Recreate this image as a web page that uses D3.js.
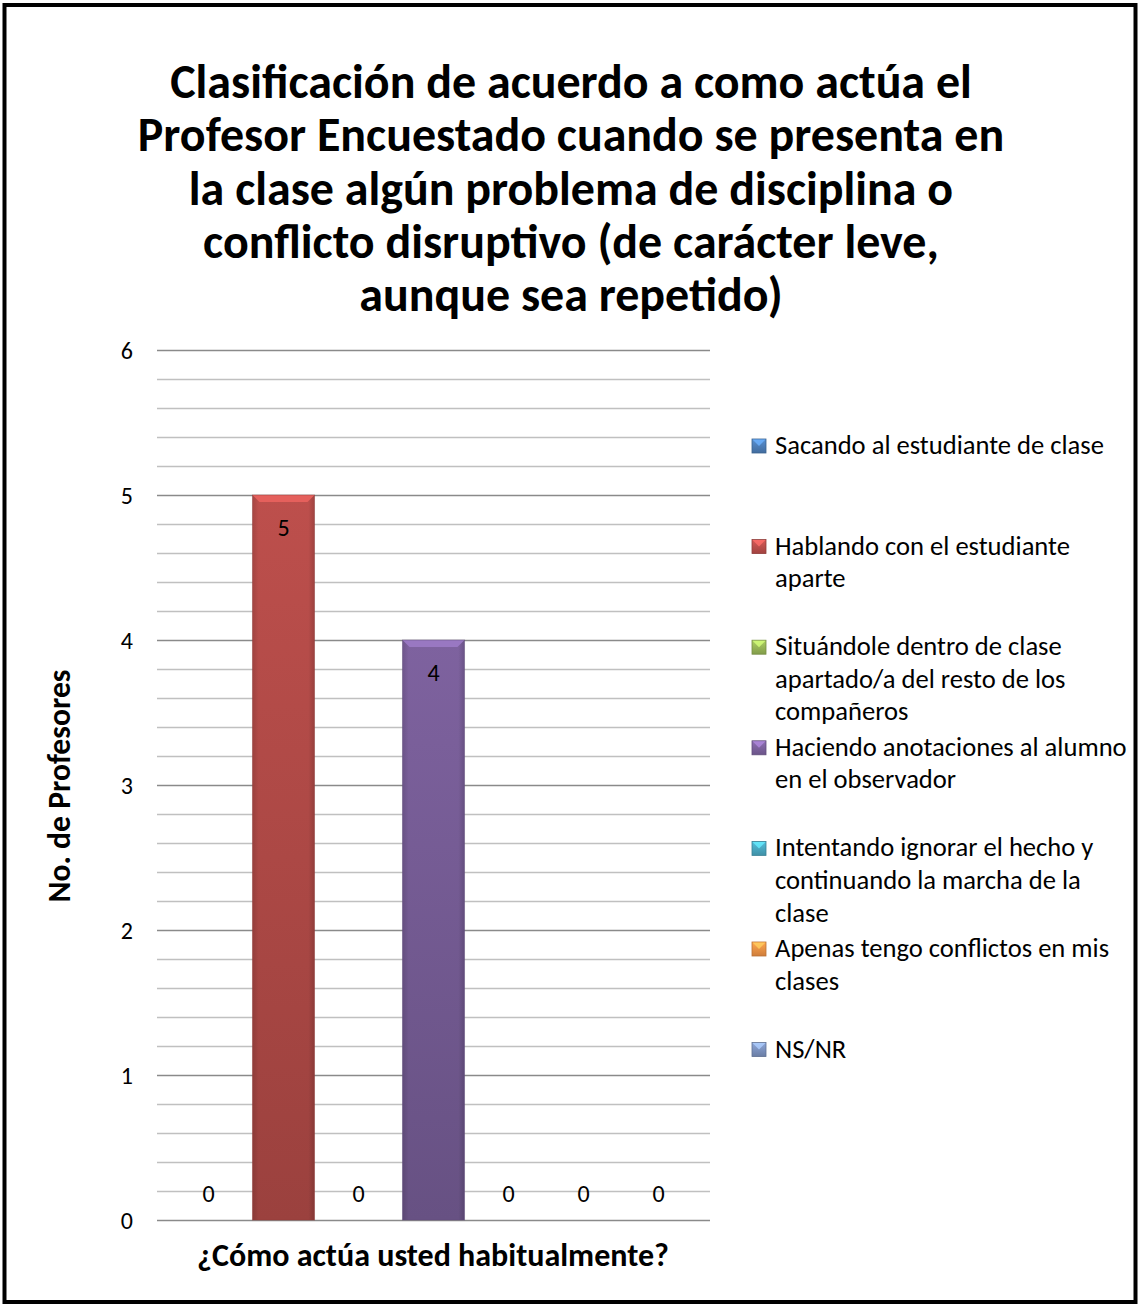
<!DOCTYPE html>
<html>
<head>
<meta charset="utf-8">
<script src="https://cdn.jsdelivr.net/npm/d3@7"></script>
<style>
  body { margin: 0; background: #fff; }
  svg { display: block; font-family: Carlito, Calibri, Lato, sans-serif; }
</style>
</head>
<body>
<svg id="chart"></svg>
<script>
// données du graphique
const titleLines = [
  "Clasificación de acuerdo a como actúa el",
  "Profesor Encuestado cuando se presenta en",
  "la clase algún problema de disciplina o",
  "conflicto disruptivo (de carácter leve,",
  "aunque sea repetido)"
];
const category = "¿Cómo actúa usted habitualmente?";
const yLabel = "No. de Profesores";
const seriesNames = [
  "Sacando al estudiante de clase",
  "Hablando con el estudiante aparte",
  "Situándole dentro de clase apartado/a del resto de los compañeros",
  "Haciendo anotaciones al alumno en el observador",
  "Intentando ignorar el hecho y continuando la marcha de la clase",
  "Apenas tengo conflictos en mis clases",
  "NS/NR"
];
// retours à la ligne de la légende
const legendLines = [
  ["Sacando al estudiante de clase"],
  ["Hablando con el estudiante", "aparte"],
  ["Situándole dentro de clase", "apartado/a del resto de los", "compañeros"],
  ["Haciendo anotaciones al alumno", "en el observador"],
  ["Intentando ignorar el hecho y", "continuando la marcha de la", "clase"],
  ["Apenas tengo conflictos en mis", "clases"],
  ["NS/NR"]
];
const values = [0, 5, 0, 4, 0, 0, 0];
const yTicks = [0, 1, 2, 3, 4, 5, 6];
const colors = ["#4f81bd", "#c0504d", "#9bbb59", "#8064a2", "#4bacc6", "#f79646", "#7f96c4"];

const width = 1139, height = 1306;
const plot = { left: 157, right: 710, top: 350, bottom: 1220 };

const svg = d3.select("#chart").attr("width", width).attr("height", height);
const defs = svg.append("defs");

// ajuste la taille de police pour obtenir une largeur donnée
function fitFont(sel, target, base) {
  sel.attr("font-size", base);
  const w = sel.node().getComputedTextLength();
  const size = base * target / w;
  sel.attr("font-size", size);
  return size;
}

// cadre
svg.append("rect")
  .attr("x", 4.5).attr("y", 5)
  .attr("width", 1131).attr("height", 1297)
  .attr("fill", "#fff")
  .attr("stroke", "#000")
  .attr("stroke-width", 4);

// titre
const t0 = svg.append("text").attr("font-weight", "bold").text(titleLines[0]);
const titleSize = fitFont(t0, 802, 40);
t0.remove();
svg.append("g").selectAll("text")
  .data(titleLines)
  .join("text")
  .attr("x", 571)
  .attr("y", (d, i) => 98 + i * 53.3)
  .attr("text-anchor", "middle")
  .attr("font-weight", "bold")
  .attr("font-size", titleSize)
  .attr("fill", "#000")
  .text(d => d);

// échelles
const yScale = d3.scaleLinear().domain([0, 6]).range([plot.bottom, plot.top]);
const xScale = d3.scaleBand()
  .domain(d3.range(seriesNames.length))
  .range([plot.left, plot.right])
  .paddingInner(0.173)
  .paddingOuter(0.273);

// lignes de grille
const minor = d3.range(0, 6.0001, 0.2).filter(v => Math.abs(v - Math.round(v)) > 0.01);
svg.append("g").selectAll("line")
  .data(minor)
  .join("line")
  .attr("x1", plot.left).attr("x2", plot.right)
  .attr("y1", d => Math.round(yScale(d)) + 0.5)
  .attr("y2", d => Math.round(yScale(d)) + 0.5)
  .attr("stroke", "#c0c0c0")
  .attr("stroke-width", 1.5);

const yAxis = svg.append("g")
  .attr("transform", `translate(${plot.left},0)`)
  .call(d3.axisLeft(yScale).tickValues(yTicks).tickFormat(d3.format("d"))
    .tickSize(-(plot.right - plot.left)).tickPadding(24));
yAxis.select(".domain").remove();
yAxis.attr("font-size", null).attr("font-family", null);
yAxis.selectAll(".tick line").attr("stroke", "#8a8a8a").attr("stroke-width", 1.5);
yAxis.selectAll(".tick text")
  .style("font-size", "24px")
  .attr("dy", "0.35em")
  .attr("fill", "#000");

// dégradés pour les barres
colors.forEach((c, i) => {
  const g = defs.append("linearGradient")
    .attr("id", "grad" + i)
    .attr("x1", 0).attr("y1", 0).attr("x2", 0).attr("y2", 1);
  g.append("stop").attr("offset", "0%").attr("stop-color", d3.color(c).darker(0.05));
  g.append("stop").attr("offset", "100%").attr("stop-color", d3.color(c).darker(0.6));
  const s = defs.append("linearGradient")
    .attr("id", "side" + i)
    .attr("x1", 0).attr("y1", 0).attr("x2", 1).attr("y2", 0);
  s.append("stop").attr("offset", "0%").attr("stop-color", "#000").attr("stop-opacity", 0.12);
  s.append("stop").attr("offset", "10%").attr("stop-color", "#000").attr("stop-opacity", 0);
  s.append("stop").attr("offset", "90%").attr("stop-color", "#000").attr("stop-opacity", 0);
  s.append("stop").attr("offset", "100%").attr("stop-color", "#000").attr("stop-opacity", 0.15);
});

const bevel = 7;
const bars = svg.append("g").selectAll("g")
  .data(values.map((v, i) => ({ v, i })).filter(d => d.v > 0))
  .join("g");

bars.append("rect")
  .attr("x", d => xScale(d.i))
  .attr("y", d => yScale(d.v))
  .attr("width", xScale.bandwidth())
  .attr("height", d => yScale(0) - yScale(d.v))
  .attr("fill", d => `url(#grad${d.i})`);

bars.append("rect")
  .attr("x", d => xScale(d.i))
  .attr("y", d => yScale(d.v))
  .attr("width", xScale.bandwidth())
  .attr("height", d => yScale(0) - yScale(d.v))
  .attr("fill", d => `url(#side${d.i})`);

// biseau du haut
bars.append("path")
  .attr("d", d => {
    const x0 = xScale(d.i), x1 = x0 + xScale.bandwidth(), y0 = yScale(d.v);
    return `M${x0},${y0}L${x1},${y0}L${x1 - bevel},${y0 + bevel}L${x0 + bevel},${y0 + bevel}Z`;
  })
  .attr("fill", d => d3.color(colors[d.i]).brighter(0.5));

bars.append("rect")
  .attr("x", d => xScale(d.i))
  .attr("y", d => yScale(d.v))
  .attr("width", xScale.bandwidth())
  .attr("height", d => yScale(0) - yScale(d.v))
  .attr("fill", "none")
  .attr("stroke", d => d3.color(colors[d.i]).darker(0.8))
  .attr("stroke-opacity", 0.5)
  .attr("stroke-width", 1);

// étiquettes de valeurs
svg.append("g").selectAll("text")
  .data(values.map((v, i) => ({ v, i })))
  .join("text")
  .attr("x", d => xScale(d.i) + xScale.bandwidth() / 2)
  .attr("y", d => d.v > 0 ? yScale(d.v) + 41 : yScale(0) - 18)
  .attr("text-anchor", "middle")
  .attr("font-size", 24)
  .attr("fill", "#000")
  .text(d => d.v);

// titre de l'axe X
const xt = svg.append("text")
  .attr("x", 433)
  .attr("y", 1266)
  .attr("text-anchor", "middle")
  .attr("font-weight", "bold")
  .attr("fill", "#000")
  .text(category);
fitFont(xt, 472, 22);

// titre de l'axe Y
const yt = svg.append("text")
  .attr("transform", "translate(70,786) rotate(-90)")
  .attr("text-anchor", "middle")
  .attr("font-weight", "bold")
  .attr("fill", "#000")
  .text(yLabel);
fitFont(yt, 233, 22);

// légende
const lt = svg.append("text").text(legendLines[0][0]);
const legendSize = fitFont(lt, 329, 22);
lt.remove();

const legend = svg.append("g").selectAll("g")
  .data(seriesNames)
  .join("g")
  .attr("transform", (d, i) => `translate(752,${446 + i * 100.6})`);

colors.forEach((c, i) => {
  const g = defs.append("linearGradient")
    .attr("id", "lg" + i)
    .attr("x1", 0).attr("y1", 0).attr("x2", 0).attr("y2", 1);
  g.append("stop").attr("offset", "0%").attr("stop-color", d3.color(c).brighter(0.3));
  g.append("stop").attr("offset", "100%").attr("stop-color", d3.color(c).darker(0.5));
});

legend.append("rect")
  .attr("x", 0).attr("y", -7)
  .attr("width", 14).attr("height", 14)
  .attr("fill", (d, i) => `url(#lg${i})`)
  .attr("stroke", (d, i) => d3.color(colors[i]).darker(0.8))
  .attr("stroke-width", 0.8);

legend.append("path")
  .attr("d", "M0.5,-6.5L13.5,-6.5L7,0Z")
  .attr("fill", (d, i) => d3.color(colors[i]).brighter(0.9))
  .attr("opacity", 0.8);

legend.append("text")
  .attr("x", 23)
  .attr("y", 8)
  .attr("font-size", legendSize)
  .attr("fill", "#000")
  .selectAll("tspan")
  .data((d, i) => legendLines[i])
  .join("tspan")
  .attr("x", 23)
  .attr("dy", (d, j) => j === 0 ? 0 : 32.6)
  .text(d => d);
</script>
</body>
</html>
